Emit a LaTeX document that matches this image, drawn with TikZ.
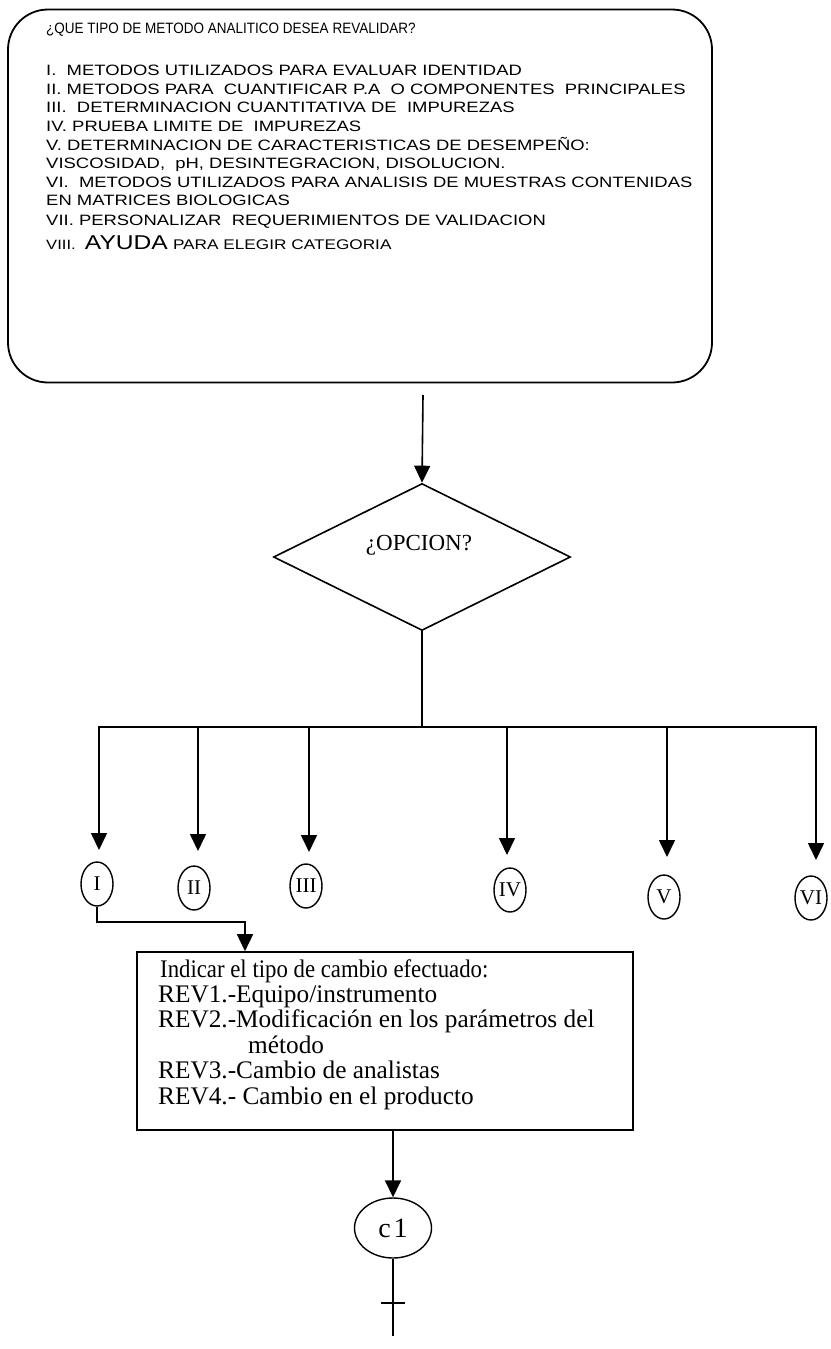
\documentclass[tikz,border=0pt]{standalone}
\usepackage{fontspec}
\setmainfont{Liberation Serif}
\newfontfamily\menufont[FakeStretch=1.23]{Liberation Sans}
\newfontfamily\headfont[FakeStretch=0.9]{Liberation Sans}
\usetikzlibrary{shapes.geometric,arrows.meta}

\begin{document}
\begin{tikzpicture}[x=1pt,y=-1pt,
  line/.style={line width=1.6pt},
  arr/.style={line width=1.6pt,-{Triangle[width=16pt,length=17pt]}},
  menuline/.style={anchor=base west,inner sep=0pt,font=\menufont\fontsize{15}{15}\selectfont},
  revline/.style={anchor=base west,inner sep=0pt,font=\fontsize{25.3}{25.3}\selectfont},
  opt/.style={draw,ellipse,line width=1.4pt,minimum width=32pt,minimum height=44pt,inner sep=0pt,font=\fontsize{21}{21}\selectfont},
]
\useasboundingbox (0,0) rectangle (830,1349);

% menu of method categories
\node[draw,rounded corners=40pt,line width=1.8pt,minimum width=704pt,minimum height=373pt,inner sep=0pt] (menu) at (360,196) {};
\node[menuline,font=\headfont\fontsize{15}{15}\selectfont] (q) at (46,33) {¿QUE TIPO DE METODO ANALITICO DESEA REVALIDAR?};
\node[menuline] (m1) at (46,75) {I.\ \ METODOS UTILIZADOS PARA EVALUAR IDENTIDAD};
\node[menuline] (m2) at (46,94) {II. METODOS PARA\ \ CUANTIFICAR P.A\ \ O COMPONENTES\ \ PRINCIPALES};
\node[menuline] (m3) at (46,112.5) {III.\ \ DETERMINACION CUANTITATIVA DE\ \ IMPUREZAS};
\node[menuline] (m4) at (46,131) {IV. PRUEBA LIMITE DE\ \ IMPUREZAS};
\node[menuline] (m5) at (46,150) {V. DETERMINACION DE CARACTERISTICAS DE DESEMPEÑO:};
\node[menuline] (m5b) at (46,168.5) {VISCOSIDAD,\ \ pH, DESINTEGRACION, DISOLUCION.};
\node[menuline] (m6) at (46,187) {VI.\ \ METODOS UTILIZADOS PARA ANALISIS DE MUESTRAS CONTENIDAS};
\node[menuline] (m6b) at (46,205.5) {EN MATRICES BIOLOGICAS};
\node[menuline] (m7) at (46,225) {VII. PERSONALIZAR\ \ REQUERIMIENTOS DE VALIDACION};
\node[menuline] (m8) at (46,249) {{\fontsize{13.5}{13.5}\selectfont VIII.\ \ }{\fontsize{20}{20}\selectfont AYUDA} {\fontsize{14}{14}\selectfont PARA ELEGIR CATEGORIA}};

% decision
\node[draw,diamond,line width=1.6pt,minimum width=297pt,minimum height=147pt,inner sep=0pt] (opc) at (422,557) {};
\node[font=\fontsize{23}{23}\selectfont,inner sep=0pt] (opctxt) at (419,545) {¿OPCION?};
\coordinate (m0) at (423,395);
\draw[arr] (m0) -- (opc.north);

% distribution bus
\coordinate (hub) at (422,727);
\draw[line] (opc.south) -- (hub);
\coordinate (t1) at (99,850);
\coordinate (t2) at (198,851);
\coordinate (t3) at (309,852);
\coordinate (t4) at (507,855);
\coordinate (t5) at (667,857);
\coordinate (t6) at (816,860);
\draw[arr] (hub) -| (t1);
\draw[arr] (hub) -| (t6);
\foreach \k in {2,3,4,5} \draw[arr] (t\k |- hub) -- (t\k);

% options
\node[opt] (cI) at (97,884) {I};
\node[opt] (cII) at (194,888) {II};
\node[opt] (cIII) at (306,886) {III};
\node[opt] (cIV) at (510,890) {IV};
\node[opt] (cV) at (664,897) {V};
\node[opt] (cVI) at (811,898) {VI};

% change type box
\node[draw,line width=1.6pt,minimum width=496pt,minimum height=178pt,inner sep=0pt] (rev) at (385,1041) {};
\node[revline] (r0) at (160,977) {\scalebox{0.9}[1]{Indicar el tipo de cambio efectuado:}};
\node[revline] (r1) at (158,1002.4) {REV1.-Equipo/instrumento};
\node[revline] (r2) at (158,1027.8) {REV2.-Modificación en los parámetros del};
\node[revline] (r2b) at (248,1053.2) {método};
\node[revline] (r3) at (158,1078.6) {REV3.-Cambio de analistas};
\node[revline] (r4) at (158,1104) {REV4.- Cambio en el producto};

\coordinate (k1) at (245,922);
\draw[arr] (cI.south) |- (k1) -- (k1 |- rev.north);

% connector c1
\node[draw,ellipse,line width=1.4pt,minimum width=77pt,minimum height=60pt,inner sep=0pt,font=\fontsize{28}{28}\selectfont] (cc) at (393,1228) {c\hspace{3pt}1};
\draw[arr] (rev.south -| cc.north) -- (cc.north);
\coordinate (tail) at (393,1336);
\draw[line] (cc.south) -- (tail);
\coordinate (xl) at (381,1303);
\coordinate (xr) at (405,1303);
\draw[line] (xl) -- (xr);
\end{tikzpicture}
\end{document}
